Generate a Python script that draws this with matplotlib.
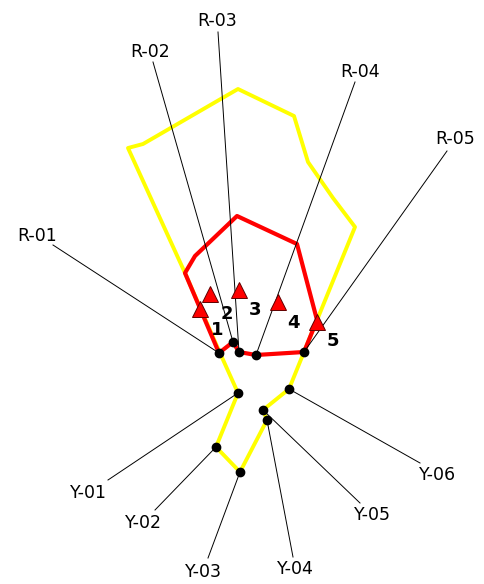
import matplotlib
matplotlib.use("Agg")
from matplotlib import pyplot as plt

# outlines (image pixel coords, y down)
yellow_x = [220, 238, 216, 240, 267, 263, 289, 304, 355, 333, 308, 294, 238, 143, 128, 185, 220]
yellow_y = [353, 393, 447, 472, 420, 410, 389, 352, 227, 198, 162, 116, 89, 144, 148, 273, 353]

red_x = [219, 185, 195, 237, 297, 317, 304, 256, 239, 233, 219]
red_y = [353, 273, 256, 216, 244, 320, 352, 355, 352, 342, 353]

# triangles + numbers
tri_x = [200, 210, 239, 278, 317]
tri_y = [309, 294, 290, 302, 322]
num_labels = ["1", "2", "3", "4", "5"]
num_x = [217, 227, 255, 293, 333]
num_y = [330, 314, 310, 323, 341]

# R points
r_names = ["R-01", "R-02", "R-03", "R-04", "R-05"]
r_px = [219, 233, 239, 256, 304]
r_py = [353, 342, 352, 355, 352]
r_lx = [37, 150, 217, 360, 455]
r_ly = [236, 52, 21, 72, 139]
r_sx = [53, 153, 218, 355, 447]
r_sy = [245, 62, 32, 82, 151]

# Y points
y_names = ["Y-01", "Y-02", "Y-03", "Y-04", "Y-05", "Y-06"]
y_px = [238, 216, 240, 267, 263, 289]
y_py = [393, 447, 472, 420, 410, 389]
y_lx = [88, 143, 203, 295, 372, 438]
y_ly = [493, 523, 572, 569, 515, 475]
y_sx = [108, 155, 208, 293, 360, 420]
y_sy = [480, 510, 558, 557, 503, 463]

fig = plt.figure(figsize=(4.85, 5.84), dpi=100)
ax = fig.add_axes([0, 0, 1, 1])
ax.set_xlim(0, 485)
ax.set_ylim(584, 0)
ax.axis('off')

ax.plot(yellow_x, yellow_y, color='#ffff00', lw=2.8, zorder=1)
ax.plot(red_x, red_y, color='#ff0000', lw=3.0, zorder=2)

for i in range(len(r_names)):
    ax.plot([r_sx[i], r_px[i]], [r_sy[i], r_py[i]], color='black', lw=0.7, zorder=3)
    ax.text(r_lx[i], r_ly[i], r_names[i], fontsize=12.5, ha='center', va='center')
for i in range(len(y_names)):
    ax.plot([y_sx[i], y_px[i]], [y_sy[i], y_py[i]], color='black', lw=0.7, zorder=3)
    ax.text(y_lx[i], y_ly[i], y_names[i], fontsize=12.5, ha='center', va='center')

ax.plot(r_px, r_py, 'o', color='black', ms=6, ls='none', zorder=4)
ax.plot(y_px, y_py, 'o', color='black', ms=6, ls='none', zorder=4)

ax.plot(tri_x, tri_y, '^', ms=11, mfc='#ff0000', mec='#600000', mew=0.7, ls='none', zorder=5)
for i in range(len(num_labels)):
    ax.text(num_x[i], num_y[i], num_labels[i], fontsize=13, fontweight='bold',
            ha='center', va='center', zorder=6)

fig.savefig('out.png', dpi=100)
